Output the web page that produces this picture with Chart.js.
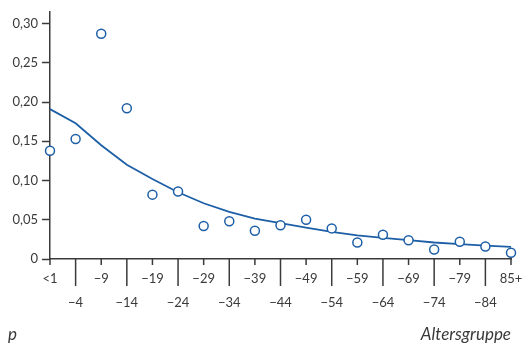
<!DOCTYPE html>
<html>
<head>
<meta charset="utf-8">
<script src="https://cdn.jsdelivr.net/npm/chart.js@4/dist/chart.umd.min.js"></script>
<style>
  body { margin: 0; background: #fff; }
  #wrap { width: 531px; height: 348px; }
</style>
</head>
<body>
<div id="wrap"><canvas id="pChart" width="531" height="348"></canvas></div>
<script>
// age groups (x categories)
const ageGroups = ["<1", "\u22124", "\u22129", "\u221214", "\u221219", "\u221224", "\u221229", "\u221234", "\u221239",
    "\u221244", "\u221249", "\u221254", "\u221259", "\u221264", "\u221269", "\u221274", "\u221279", "\u221284", "85+"];
// observed p per age group (circles)
const observed = [0.138, 0.153, 0.287, 0.192, 0.082, 0.086, 0.042, 0.048, 0.036,
    0.043, 0.050, 0.039, 0.021, 0.031, 0.024, 0.012, 0.022, 0.016, 0.008];
// fitted curve
const fitted = [0.191, 0.173, 0.145, 0.120, 0.102, 0.085, 0.071, 0.060, 0.0515,
    0.0456, 0.040, 0.0346, 0.030, 0.027, 0.024, 0.021, 0.019, 0.017, 0.0155];
const yTicks = [0, 0.05, 0.10, 0.15, 0.20, 0.25, 0.30];

const blue = "#1d5fa6";
const ink = "#3a3a3a";

// staggered x tick marks + axis titles
const extras = {
    id: "extras",
    afterDraw(chart) {
        const { ctx, chartArea, scales } = chart;
        const x = scales.x;
        ctx.save();
        ctx.strokeStyle = ink;
        ctx.lineWidth = 1.5;
        ageGroups.forEach((_, i) => {
            const px = x.getPixelForTick(i);
            ctx.beginPath();
            ctx.moveTo(px, chartArea.bottom);
            ctx.lineTo(px, chartArea.bottom + (i % 2 ? 27 : 6));
            ctx.stroke();
        });
        ctx.fillStyle = ink;
        ctx.font = "italic 17px Lato";
        ctx.textBaseline = "middle";
        ctx.textAlign = "left";
        ctx.fillText("p", 8, 335);
        ctx.textAlign = "right";
        ctx.fillText("Altersgruppe", 511, 335);
        ctx.restore();
    }
};

const ctx = document.getElementById("pChart").getContext("2d");
new Chart(ctx, {
    type: "line",
    data: {
        labels: ageGroups,
        datasets: [{
            label: "beobachtet",
            data: observed,
            showLine: false,
            pointRadius: 4.5,
            pointBorderWidth: 1.5,
            pointBorderColor: blue,
            pointBackgroundColor: "#fff",
            clip: false
        }, {
            label: "Modell",
            data: fitted,
            borderColor: blue,
            borderWidth: 1.8,
            pointRadius: 0,
            tension: 0,
            clip: false
        }]
    },
    options: {
        responsive: false,
        animation: false,
        layout: { padding: { top: 8, right: 20, bottom: 25, left: 0 } },
        plugins: {
            legend: { display: false },
            tooltip: { enabled: false }
        },
        scales: {
            x: {
                offset: false,
                border: { color: ink, width: 1.5 },
                grid: { display: false, drawTicks: false },
                ticks: {
                    autoSkip: false,
                    maxRotation: 0,
                    padding: 8,
                    color: ink,
                    font: { family: "Lato", size: 13, lineHeight: 24 / 13 },
                    callback: (v, i) => i % 2 ? ["", ageGroups[i]] : ageGroups[i]
                }
            },
            y: {
                min: 0,
                max: 0.315,
                afterBuildTicks: s => { s.ticks = yTicks.map(v => ({ value: v })); },
                afterFit: s => { s.width = 50; },
                border: { color: ink, width: 1.5 },
                grid: { drawOnChartArea: false, tickLength: 8, tickColor: ink, tickWidth: 1.5 },
                ticks: {
                    padding: 4,
                    color: ink,
                    font: { family: "Lato", size: 13 },
                    callback: v => v === 0 ? "0" : v.toFixed(2).replace(".", ",")
                }
            }
        }
    },
    plugins: [extras]
});
</script>
</body>
</html>
